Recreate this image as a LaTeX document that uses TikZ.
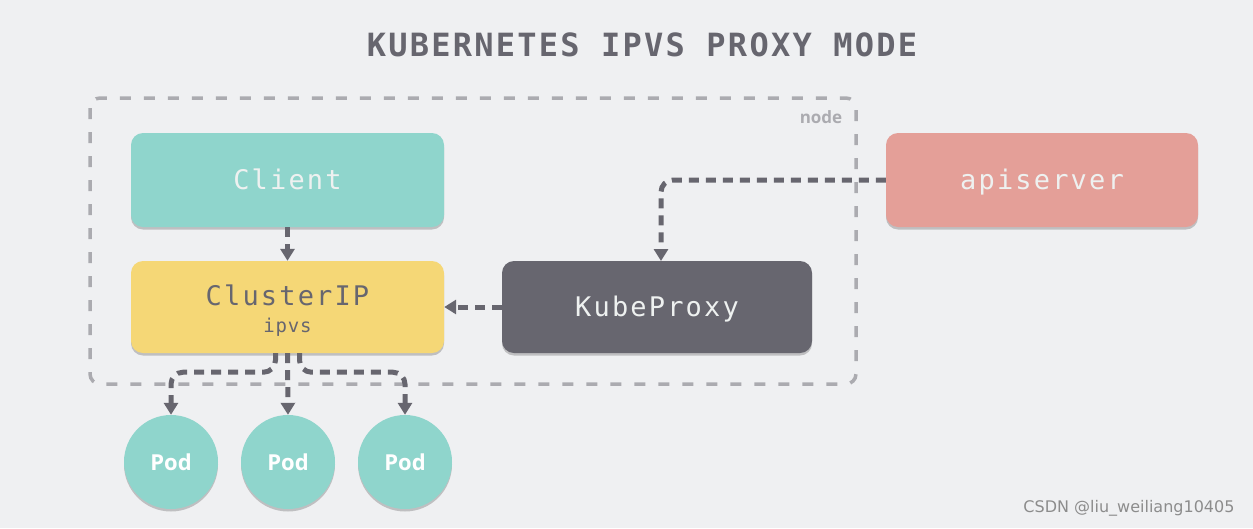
\documentclass[tikz,border=0pt]{standalone}
\usepackage{fontspec}
\usetikzlibrary{arrows.meta,shadows,calc}
\newfontfamily\monofam{DejaVu Sans Mono}[LetterSpace=8]
\newfontfamily\ipvsfam{DejaVu Sans Mono}[LetterSpace=4]
\newfontfamily\titlefam{DejaVu Sans Mono}[LetterSpace=7]
\newfontfamily\podfam{Open Sans}
\newfontfamily\wmfam{DejaVu Sans}
\definecolor{bg}{HTML}{EFF0F2}
\definecolor{teal}{HTML}{8FD5CC}
\definecolor{yel}{HTML}{F5D776}
\definecolor{slate}{HTML}{67666F}
\definecolor{salmon}{HTML}{E49F98}
\definecolor{dashgray}{HTML}{ABABB0}
\definecolor{txtlight}{HTML}{EEF1F0}
\tikzset{
  x=1pt,y=-1pt,
  box/.style={rounded corners=12pt, minimum width=313pt, minimum height=94pt, inner sep=0pt,
     text height=19.7pt, text depth=0pt,
     drop shadow={shadow xshift=0pt, shadow yshift=-2.5pt, opacity=0.35, fill=black!60}},
  boxtext/.style={font=\monofam\fontsize{27}{30}\selectfont},
  pod/.style={circle, fill=teal, minimum size=94pt, inner sep=0pt, text=white,
     text height=16.5pt, text depth=0pt,
     font=\podfam\bfseries\fontsize{22}{26}\selectfont,
     drop shadow={shadow xshift=0pt, shadow yshift=-2.5pt, opacity=0.35, fill=black!60}},
  conn/.style={draw=slate, line width=5pt, dash pattern=on 10pt off 7pt,
     -{Triangle[width=14pt,length=12pt]}, rounded corners=12pt},
}
\begin{document}
\begin{tikzpicture}
\fill[bg] (0,0) rectangle (1253,528);
\useasboundingbox (0,0) rectangle (1253,528);
\node[text=slate, anchor=base, font=\titlefam\bfseries\fontsize{32}{36}\selectfont] (title) at (642,56) {KUBERNETES IPVS PROXY MODE};
\draw[dashgray, line width=3.5pt, dash pattern=on 11pt off 13pt, rounded corners=10pt] (90,98) rectangle (856,384);
\node[text=dashgray, font=\podfam\bfseries\fontsize{17}{20}\selectfont] (nodelbl) at (821,117) {node};
\node[box, fill=teal, text=txtlight, boxtext] (client) at (287.5,180) {Client};
\node[box, fill=yel, minimum height=92pt] (cip) at (287.5,307) {};
\node[text=slate, boxtext, anchor=base] (ciptxt) at (287.5,305) {ClusterIP};
\node[text=slate, anchor=base, font=\ipvsfam\fontsize{19}{21}\selectfont] (ipvs) at (287.5,332) {ipvs};
\node[box, fill=slate, text=txtlight, boxtext, minimum width=310pt, minimum height=92pt] (kp) at (657,307) {KubeProxy};
\node[box, fill=salmon, text=txtlight, boxtext, minimum width=312pt] (api) at (1042,180) {apiserver};
\node[pod] (p1) at (171,462) {Pod};
\node[pod] (p2) at (288,462) {Pod};
\node[pod] (p3) at (405,462) {Pod};
\coordinate (kpin) at (661,261);
\draw[conn] (client.south) -- (cip.north);
\draw[conn] (kp.west) -- (cip.east);
\draw[conn] (api.west) -| (kpin);
\draw[conn] ($(cip.south)+(-12,0)$) -- ++(0,19) -| (p1.north);
\draw[conn] (cip.south) -- (p2.north);
\draw[conn] ($(cip.south)+(12,0)$) -- ++(0,19) -| (p3.north);
\node[text=black!45, font=\wmfam\fontsize{16}{18}\selectfont, anchor=east] (wm) at (1238,508) {CSDN @liu\_weiliang10405};
\end{tikzpicture}
\end{document}
